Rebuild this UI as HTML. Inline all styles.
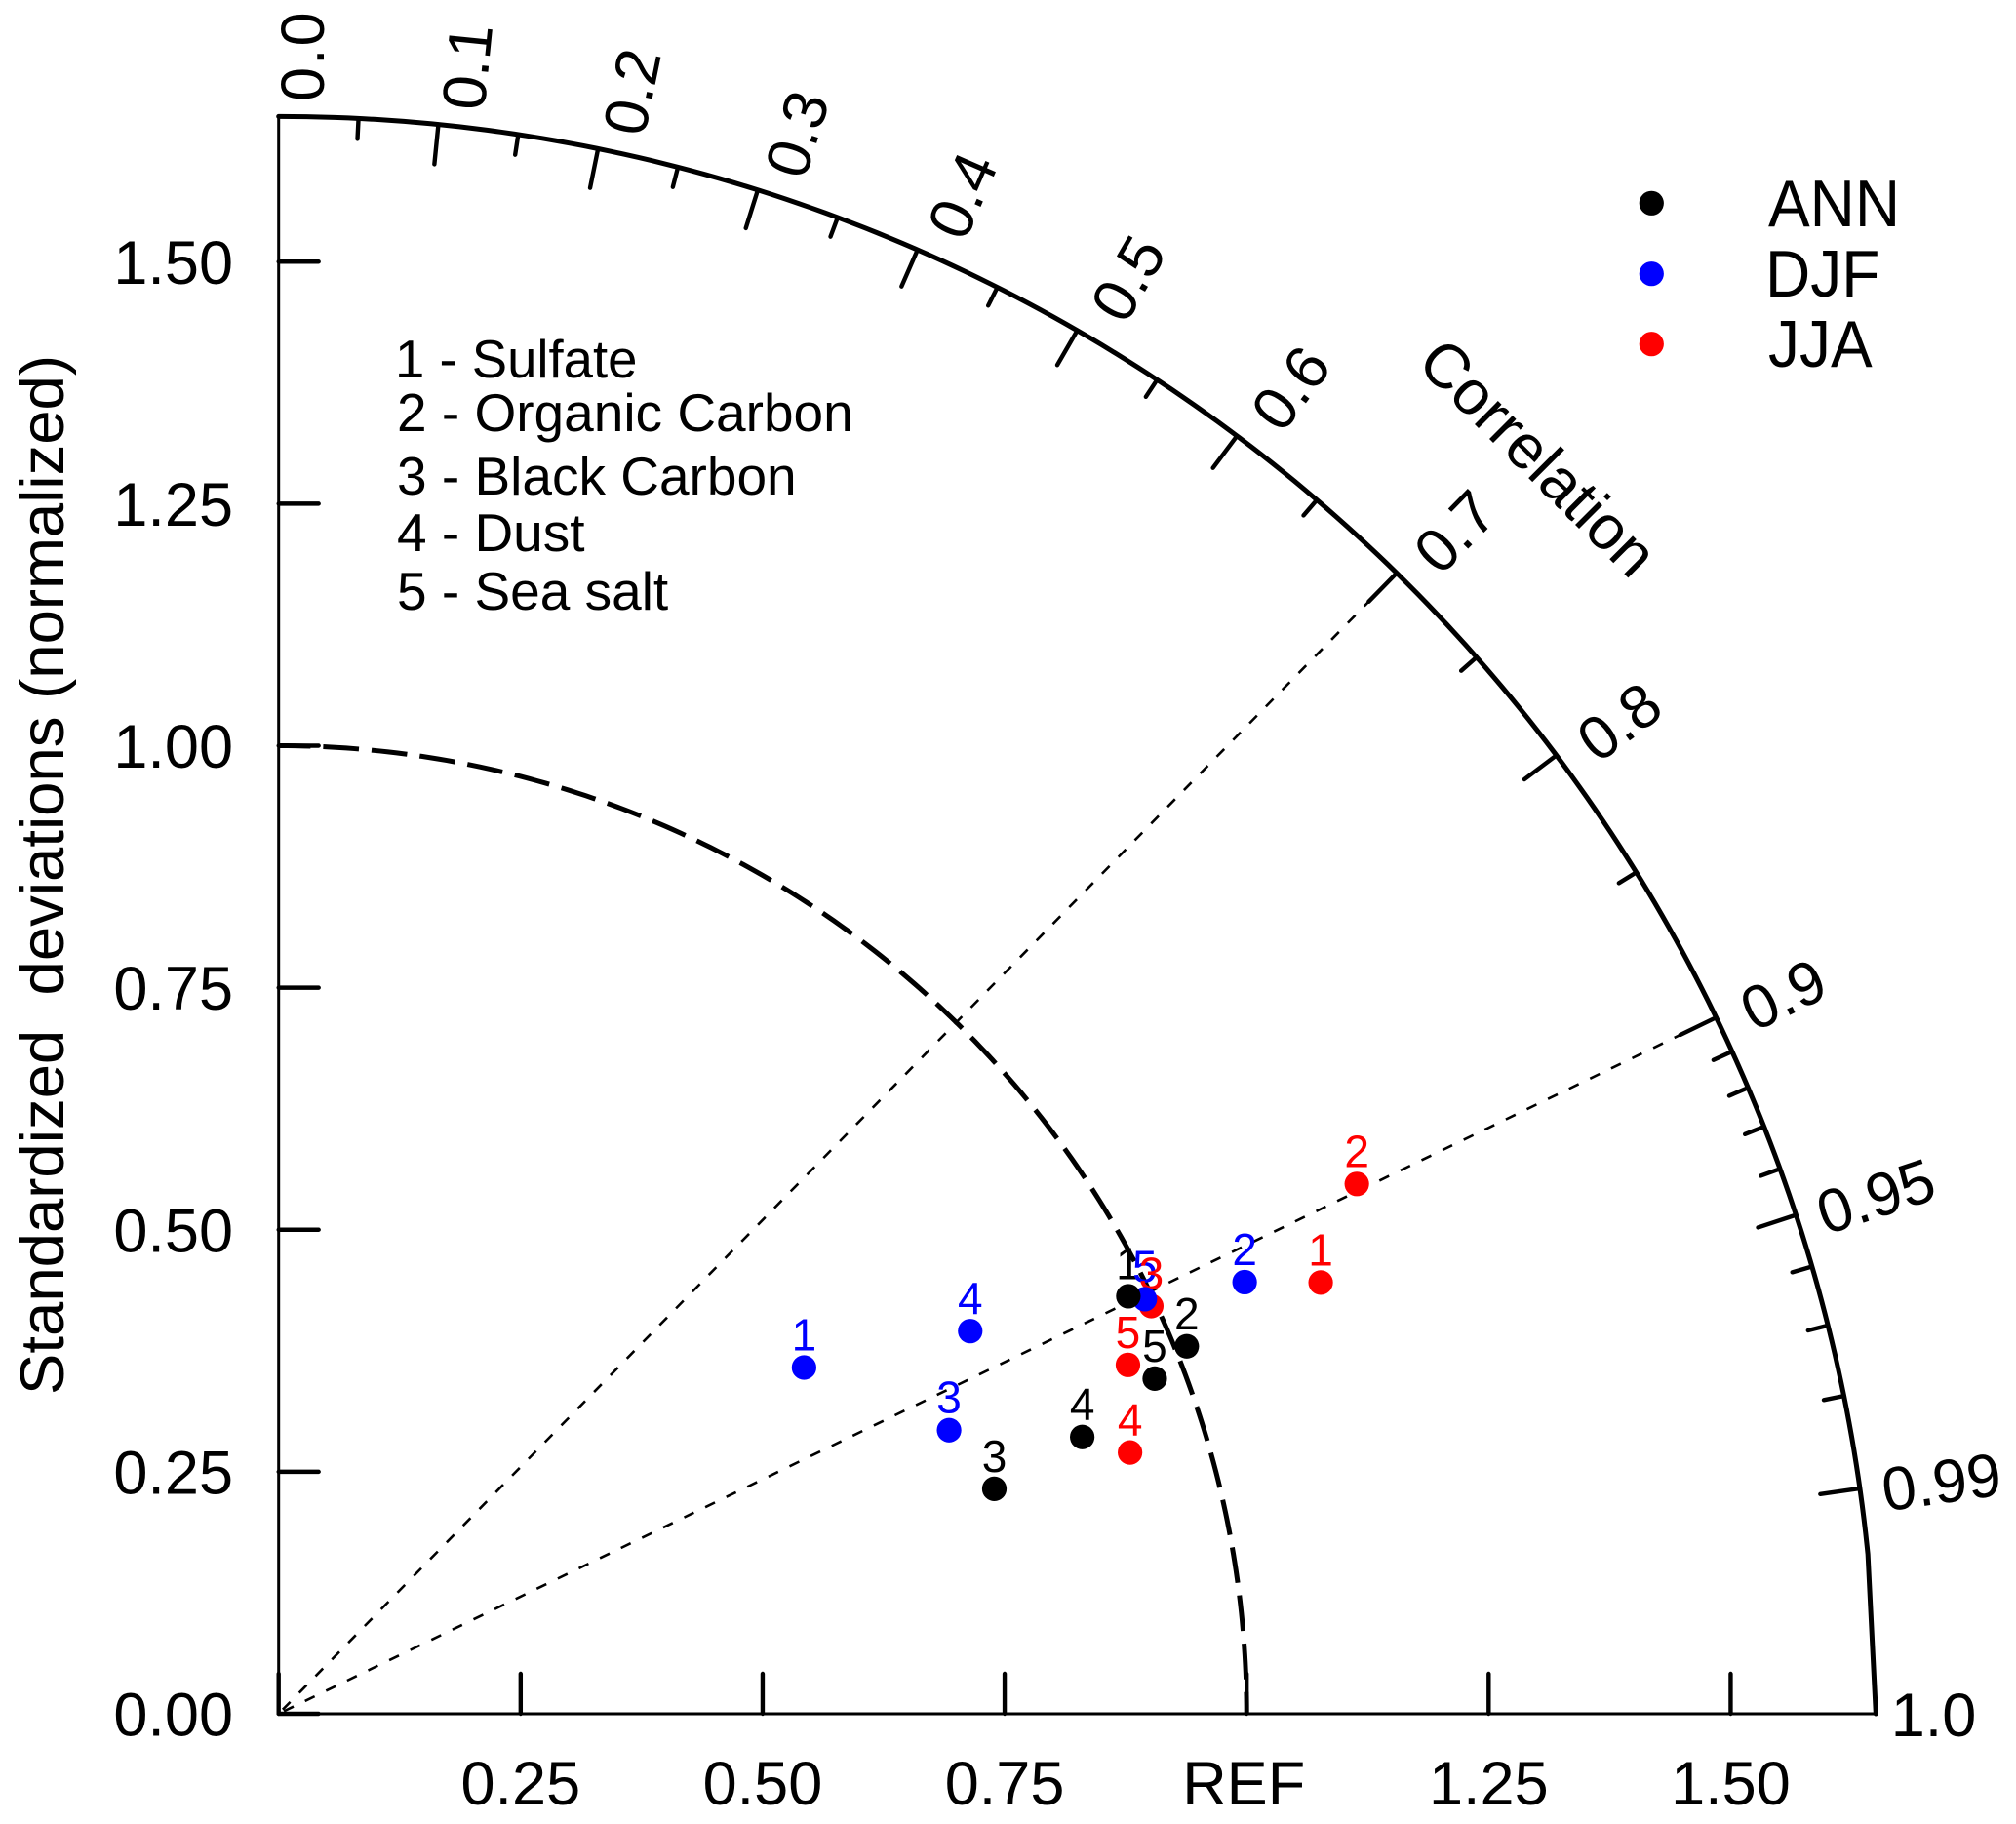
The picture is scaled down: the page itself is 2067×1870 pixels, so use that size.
<!DOCTYPE html>
<html>
<head>
<meta charset="utf-8">
<title>Taylor diagram</title>
<style>
html,body{margin:0;padding:0;background:#fff;}
svg{display:block;}
text{font-family:"Liberation Sans",Arial,sans-serif;fill:#000;white-space:pre;}
</style>
</head>
<body>
<svg id="chart" xmlns="http://www.w3.org/2000/svg" width="2067" height="1870" viewBox="0 0 2067 1870">
<rect x="0" y="0" width="2067" height="1870" fill="#fff"/>
<g id="axes"></g>
<g id="ticklabels"></g>
<g id="marks"></g>
<text transform="translate(65,897) rotate(-90)" text-anchor="middle" font-size="63.5">Standardized  deviations (normalized)</text>
<text transform="translate(1451,374) rotate(45)" font-size="64">Correlation</text>
<g font-size="55">
<text x="405" y="387" font-size="54.5">1 - Sulfate</text>
<text x="407" y="442">2 - Organic Carbon</text>
<text x="407" y="507">3 - Black Carbon</text>
<text x="407" y="565">4 - Dust</text>
<text x="407" y="625">5 - Sea salt</text>
</g>
<g>
<circle cx="1693.3" cy="208.3" r="12.6" fill="#000"/>
<circle cx="1693.3" cy="280.7" r="12.6" fill="#00f"/>
<circle cx="1693.3" cy="352.7" r="12.6" fill="#f00"/>
<text transform="translate(1813,232) scale(1,1.06)" font-size="64">ANN</text>
<text transform="translate(1810,304) scale(1,1.06)" font-size="64">DJF</text>
<text transform="translate(1813,376) scale(1,1.06)" font-size="64">JJA</text>
</g>
</svg>
<script>
// ---- chart data ----
var pointLabels = ["1", "2", "3", "4", "5"];
var sdANN  = [0.978, 1.012, 0.775, 0.878, 0.969];
var corANN = [0.8975, 0.927, 0.954, 0.9455, 0.934];
var sdDJF  = [0.650, 1.093, 0.752, 0.8165, 0.992];
var corDJF = [0.835, 0.913, 0.921, 0.875, 0.902];
var sdJJA  = [1.165, 1.241, 0.995, 0.920, 0.9485];
var corJJA = [0.924, 0.8975, 0.906, 0.956, 0.925];
var xTickValues = [0.25, 0.5, 0.75, 1, 1.25, 1.5];
var xTickLabels = ["0.25", "0.50", "0.75", "REF", "1.25", "1.50"];
var yTickValues = [0, 0.25, 0.5, 0.75, 1, 1.25, 1.5];
var yTickLabels = ["0.00", "0.25", "0.50", "0.75", "1.00", "1.25", "1.50"];
var corMajor = [0.1, 0.2, 0.3, 0.4, 0.5, 0.6, 0.7, 0.8, 0.9, 0.95, 0.99];
var corMinor = [0.05, 0.15, 0.25, 0.35, 0.45, 0.55, 0.65, 0.75, 0.85, 0.91, 0.92, 0.93, 0.94, 0.96, 0.97, 0.98];
var corLabels = ["0.0", "0.1", "0.2", "0.3", "0.4", "0.5", "0.6", "0.7", "0.8", "0.9", "0.95", "0.99", "1.0"];
var corLabelValues = [0, 0.1, 0.2, 0.3, 0.4, 0.5, 0.6, 0.7, 0.8, 0.9, 0.95, 0.99, 1];
var corGuides = [0.7, 0.9];
var sdMax = 1.65;
var sdRef = 1;

// ---- axis functions ----
var originX = 285.7, originY = 1757, unit = 992.5;
function xPos(v) { return originX + v * unit; }
function yPos(v) { return originY - v * unit; }
function polarX(sd, cor) { return xPos(sd * cor); }
function polarY(sd, cor) { return yPos(sd * Math.sqrt(1 - cor * cor)); }

var NS = "http://www.w3.org/2000/svg";
var axes = document.getElementById("axes");
var tickText = document.getElementById("ticklabels");
var marks = document.getElementById("marks");

function make(parent, tag, attrs) {
  var el = document.createElementNS(NS, tag);
  for (var k in attrs) el.setAttribute(k, attrs[k]);
  parent.appendChild(el);
  return el;
}

function seg(x1, y1, x2, y2, w, name) {
  var el = make(axes, "line", {x1: x1, y1: y1, x2: x2, y2: y2, stroke: "#000", "stroke-width": w, "stroke-linecap": "round"});
  
  
  return el;
}

// guides to correlation values
corGuides.forEach(function (c) {
  var el = make(axes, "line", {x1: originX, y1: originY, x2: polarX(sdMax, c), y2: polarY(sdMax, c), stroke: "#000", "stroke-width": 2.6, "stroke-dasharray": "11 13", "stroke-dashoffset": -6});
  
  
});

// reference arc
var refD = "";
for (var d = 90; d >= 0; d -= 0.5) {
  var t = d * Math.PI / 180;
  refD += (refD ? "L" : "M") + xPos(sdRef * Math.cos(t)).toFixed(2) + " " + yPos(sdRef * Math.sin(t)).toFixed(2);
}
var refArc = make(axes, "path", {d: refD, fill: "none", stroke: "#000", "stroke-width": 5, "stroke-dasharray": "36.7 13", "stroke-dashoffset": 4});



// axes lines
seg(originX, yPos(sdMax), originX, originY, 3, 'y-axis-line');
seg(originX, originY, xPos(sdMax), originY, 3, 'x-axis-line');

// outer arc: smooth down to r=0.995 then a straight chord to r=1
var arcD = "";
var stopAngle = Math.acos(0.995) * 180 / Math.PI;
for (var a = 90; a > stopAngle; a -= 0.5) {
  var ra = a * Math.PI / 180;
  arcD += (arcD ? "L" : "M") + xPos(sdMax * Math.cos(ra)).toFixed(2) + " " + yPos(sdMax * Math.sin(ra)).toFixed(2);
}
var rs = stopAngle * Math.PI / 180;
arcD += "L" + xPos(sdMax * Math.cos(rs)).toFixed(2) + " " + yPos(sdMax * Math.sin(rs)).toFixed(2);
arcD += "L" + xPos(sdMax) + " " + yPos(0);
var outer = make(axes, "path", {d: arcD, fill: "none", stroke: "#000", "stroke-width": 5, "stroke-linecap": "round", "stroke-linejoin": "round"});



// straight ticks
var tickLen = 41;
yTickValues.forEach(function (v, i) {
  seg(originX, yPos(v), originX + tickLen, yPos(v), 4.4, 'y-tick');
  var lab = make(tickText, "text", {x: 239, y: yPos(v) + 22.5, "text-anchor": "end", "font-size": 63});
  lab.textContent = yTickLabels[i];
  
  
});
seg(originX, originY, originX, originY - tickLen, 4.4, 'x-tick');
xTickValues.forEach(function (v, i) {
  seg(xPos(v), originY, xPos(v), originY - tickLen, 4.4, 'x-tick');
  var nudge = xTickLabels[i] === "REF" ? -3 : 0;
  var lab = make(tickText, "text", {x: xPos(v) + nudge, y: 1850, "text-anchor": "middle", "font-size": 63});
  lab.textContent = xTickLabels[i];
  
  
});

// correlation ticks
function corTick(c, len, name) {
  var s = Math.sqrt(1 - c * c);
  var r1 = sdMax * unit, r2 = r1 - len;
  seg(originX + r1 * c, originY - r1 * s, originX + r2 * c, originY - r2 * s, 4.4, name);
}
corMajor.forEach(function (c) { corTick(c, tickLen, 'correlation-tick-major'); });
corMinor.forEach(function (c) { corTick(c, 21, 'correlation-tick-minor'); });

// correlation labels, set radially
corLabelValues.forEach(function (c, i) {
  var deg = Math.acos(c) * 180 / Math.PI;
  var text = corLabels[i];
  var lateral = 5 + 17 * (deg - 8) / 82 + (deg > 60 ? 2.5 : 0);
  var start = text.length > 3 ? 1660 : 1666 - 13 * Math.max(0, deg - 60) / 30;
  if (c === 1) { start = 1653; lateral = 1; }
  var lab = make(tickText, "text", {
    transform: "translate(" + originX + "," + originY + ") rotate(" + (-deg).toFixed(3) + ")",
    x: start.toFixed(1), y: (lateral + 22).toFixed(1), "font-size": 63
  });
  if (c === 0) lab.setAttribute("letter-spacing", "2");
  lab.textContent = text;
  
  
});

// series
var seriesSd = [sdANN, sdDJF, sdJJA];
var seriesCor = [corANN, corDJF, corJJA];
var seriesColor = ["#000", "#00f", "#f00"];
var seriesName = ["ann", "djf", "jja"];

// numbers first: black, blue, red
seriesSd.forEach(function (sds, si) {
  sds.forEach(function (sd, i) {
    var lab = make(marks, "text", {x: polarX(sd, seriesCor[si][i]), y: polarY(sd, seriesCor[si][i]) - 17.5, "text-anchor": "middle", "font-size": 46, style: "fill:" + seriesColor[si]});
    lab.textContent = pointLabels[i];
    
    
  });
});
// dots next: red, blue, black
[2, 1, 0].forEach(function (si) {
  seriesSd[si].forEach(function (sd, i) {
    var dot = make(marks, "circle", {cx: polarX(sd, seriesCor[si][i]), cy: polarY(sd, seriesCor[si][i]), r: 12.6, fill: seriesColor[si]});
    
    
  });
});
</script>
</body>
</html>
